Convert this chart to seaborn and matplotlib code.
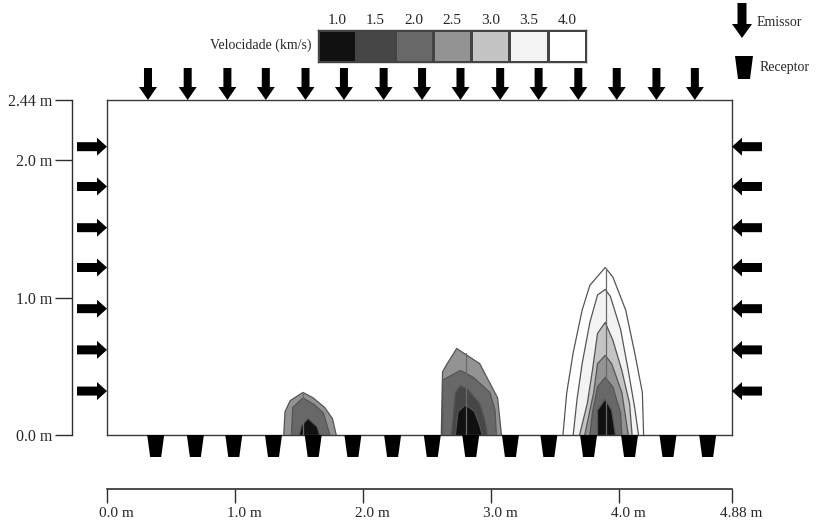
import numpy as np
import matplotlib
matplotlib.use("Agg")
import matplotlib.pyplot as plt
import seaborn as sns
from matplotlib.patches import Polygon
from matplotlib.transforms import ScaledTranslation
from matplotlib.colors import ListedColormap

# ---------------------------------------------------------------- data
# section size (m)
width_m = 4.88
height_m = 2.44

# velocity classes (km/s) and their grey shades
levels = [1.0, 1.5, 2.0, 2.5, 3.0, 3.5, 4.0]
level_colors = ["#111111", "#464646", "#686868", "#939393", "#c4c4c4", "#f3f3f3", "#ffffff"]

# axis ticks
x_ticks = [0.0, 1.0, 2.0, 3.0, 4.0, 4.88]
x_tick_labels = ["0.0 m", "1.0 m", "2.0 m", "3.0 m", "4.0 m", "4.88 m"]
y_ticks = [0.0, 1.0, 2.0, 2.44]
y_tick_labels = ["0.0 m", "1.0 m", "2.0 m", "2.44 m"]

# transducer positions (m)
top_emitters_x = [0.32, 0.63, 0.94, 1.24, 1.55, 1.85, 2.16, 2.46, 2.76, 3.07, 3.37, 3.68, 3.98, 4.29, 4.59]
bottom_receivers_x = [0.38, 0.69, 0.99, 1.30, 1.61, 1.92, 2.23, 2.54, 2.84, 3.15, 3.45, 3.76, 4.08, 4.38, 4.69]
side_emitters_y = [0.32, 0.62, 0.92, 1.22, 1.51, 1.81, 2.10]

# iso-velocity contours (km/s -> outline vertices in m), outer to inner
anomaly_1 = {
    2.5: [(1.38, 0.0), (1.39, 0.17), (1.43, 0.25), (1.53, 0.31), (1.61, 0.27), (1.70, 0.20), (1.76, 0.12), (1.79, 0.0)],
    2.0: [(1.44, 0.0), (1.45, 0.20), (1.53, 0.27), (1.62, 0.22), (1.69, 0.16), (1.74, 0.0)],
    1.0: [(1.50, 0.0), (1.52, 0.07), (1.57, 0.12), (1.64, 0.06), (1.66, 0.0)],
}
anomaly_2 = {
    2.5: [(2.61, 0.0), (2.62, 0.46), (2.65, 0.51), (2.73, 0.63), (2.91, 0.52), (3.05, 0.27), (3.08, 0.0)],
    2.0: [(2.62, 0.0), (2.62, 0.40), (2.76, 0.47), (2.86, 0.42), (2.99, 0.31), (3.03, 0.18), (3.04, 0.0)],
    1.5: [(2.69, 0.0), (2.72, 0.31), (2.76, 0.36), (2.82, 0.33), (2.91, 0.23), (2.95, 0.11), (2.97, 0.0)],
    1.0: [(2.72, 0.0), (2.74, 0.17), (2.80, 0.22), (2.87, 0.17), (2.91, 0.07), (2.93, 0.0)],
}
anomaly_3 = {
    4.0: [(3.56, 0.0), (3.59, 0.31), (3.64, 0.60), (3.71, 0.91), (3.77, 1.09), (3.89, 1.22),
          (3.95, 1.15), (4.05, 0.91), (4.12, 0.60), (4.18, 0.31), (4.19, 0.0)],
    3.5: [(3.64, 0.0), (3.67, 0.26), (3.71, 0.52), (3.77, 0.82), (3.83, 1.02), (3.89, 1.06),
          (3.93, 1.01), (4.01, 0.77), (4.07, 0.47), (4.12, 0.20), (4.15, 0.0)],
    3.0: [(3.69, 0.0), (3.75, 0.23), (3.79, 0.47), (3.83, 0.74), (3.89, 0.82), (3.95, 0.69),
          (4.02, 0.47), (4.08, 0.23), (4.10, 0.0)],
    2.5: [(3.73, 0.0), (3.80, 0.31), (3.83, 0.52), (3.89, 0.58), (3.94, 0.52), (4.02, 0.31), (4.07, 0.0)],
    2.0: [(3.77, 0.0), (3.79, 0.16), (3.83, 0.35), (3.89, 0.42), (3.95, 0.35), (4.01, 0.16), (4.02, 0.0)],
    1.0: [(3.83, 0.0), (3.83, 0.18), (3.89, 0.26), (3.94, 0.18), (3.97, 0.0)],
}
# grid column through each anomaly (x, top) in m
center_lines = [(1.53, 0.31), (2.80, 0.60), (3.90, 1.20)]

# ---------------------------------------------------------------- style
sns.set_style("white")
plt.rcParams["font.family"] = ["Liberation Serif", "DejaVu Serif"]

W, H, DPI = 826, 522, 100
fig = plt.figure(figsize=(W / DPI, H / DPI), dpi=DPI)
fig.patch.set_facecolor("white")


def frac(x0, y0, x1, y1):
    return [x0 / W, 1 - y1 / H, (x1 - x0) / W, (y1 - y0) / H]


ink = "#2e2e2e"

# ---------------------------------------------------------------- section
ax = fig.add_axes(frac(107, 100, 732, 435))
ax.set_xlim(0, width_m)
ax.set_ylim(0, height_m)
ax.set_xticks([])
ax.set_yticks([])
for s in ax.spines.values():
    s.set_visible(True)
    s.set_color("#3a3a3a")
    s.set_linewidth(1.0)

color_of = dict(zip(levels, level_colors))
for anomaly in (anomaly_1, anomaly_2, anomaly_3):
    for lev, pts in anomaly.items():
        pts = np.array(pts)
        ax.fill(pts[:, 0], pts[:, 1], color=color_of[lev], lw=0, zorder=2)
        sns.lineplot(x=pts[:, 0], y=pts[:, 1], sort=False, estimator=None,
                     color="#555555", lw=0.9, ax=ax, zorder=3)
for cx, top in center_lines:
    ax.plot([cx, cx], [0, top], color="#6a6a6a", lw=0.9, zorder=3)


def glyph(x, y, verts, base):
    tr = fig.dpi_scale_trans + ScaledTranslation(x, y, base)
    p = Polygon(np.array(verts, float) / DPI, closed=True, transform=tr,
                fc="black", ec="none", clip_on=False, zorder=5)
    fig.add_artist(p) if base is fig.transFigure else ax.add_patch(p)


down_arrow = [(-4, 32), (4, 32), (4, 13), (9, 13), (0, 0), (-9, 13), (-4, 13)]
right_arrow = [(-30, -4.5), (-10, -4.5), (-10, -9), (0, 0), (-10, 9), (-10, 4.5), (-30, 4.5)]
left_arrow = [(-x, y) for x, y in right_arrow]
receiver = [(-8.5, 0), (8.5, 0), (5.5, -22), (-5.5, -22)]

for x in top_emitters_x:
    glyph(x, height_m, down_arrow, ax.transData)
for y in side_emitters_y:
    glyph(0.0, y, right_arrow, ax.transData)
    glyph(width_m, y, left_arrow, ax.transData)
for x in bottom_receivers_x:
    glyph(x, 0.0, receiver, ax.transData)

# ---------------------------------------------------------------- scales
ay = fig.add_axes(frac(72, 100, 73, 435))
ay.set_ylim(0, height_m)
ay.set_xticks([])
ay.patch.set_visible(False)
for k, s in ay.spines.items():
    s.set_visible(k == "left")
ay.spines["left"].set_color(ink)
ay.spines["left"].set_linewidth(1.0)
ay.set_yticks(y_ticks)
ay.set_yticklabels(y_tick_labels)
ay.tick_params(axis="y", direction="out", length=12, width=1.0, color=ink,
               pad=2, labelsize=11.5, left=True)

ab = fig.add_axes(frac(107, 488, 732, 489))
ab.set_xlim(0, width_m)
ab.set_yticks([])
ab.patch.set_visible(False)
for k, s in ab.spines.items():
    s.set_visible(k == "bottom")
ab.spines["bottom"].set_color(ink)
ab.spines["bottom"].set_linewidth(1.2)
ab.set_xticks(x_ticks)
ab.set_xticklabels(x_tick_labels)
ab.tick_params(axis="x", direction="out", length=10, width=1.0, color=ink,
               pad=3, labelsize=11, bottom=True)
for lbl in ab.get_xticklabels():
    lbl.set_transform(lbl.get_transform() + ScaledTranslation(9 / DPI, 0, fig.dpi_scale_trans))

# ---------------------------------------------------------------- colour key
axc = fig.add_axes(frac(318, 30, 586, 62))
sns.heatmap(np.array([levels]), ax=axc, cmap=ListedColormap(level_colors),
            vmin=0.75, vmax=4.25, cbar=False, linewidths=0.8, linecolor="#444444",
            xticklabels=[f"{v:.1f}" for v in levels], yticklabels=False)
axc.xaxis.tick_top()
axc.tick_params(axis="x", length=0, pad=2, labelsize=11)
for s in axc.spines.values():
    s.set_visible(True)
    s.set_color("#444444")
    s.set_linewidth(1.0)
fig.text(311 / W, 1 - 45 / H, "Velocidade (km/s)", ha="right", va="center", fontsize=10)

# ---------------------------------------------------------------- legend
def fig_glyph(px, py, verts):
    glyph(px / W, 1 - py / H, verts, fig.transFigure)


fig_glyph(742, 38, [(-4.5, 35), (4.5, 35), (4.5, 14), (10, 14), (0, 0), (-10, 14), (-4.5, 14)])
fig.text(757 / W, 1 - 22 / H, "Emissor", ha="left", va="center", fontsize=10)
fig_glyph(744, 56, [(-9, 0), (9, 0), (6, -23), (-6, -23)])
fig.text(760 / W, 1 - 68 / H, "Receptor", ha="left", va="center", fontsize=10)

fig.savefig("out.png", dpi=DPI, facecolor="white")
